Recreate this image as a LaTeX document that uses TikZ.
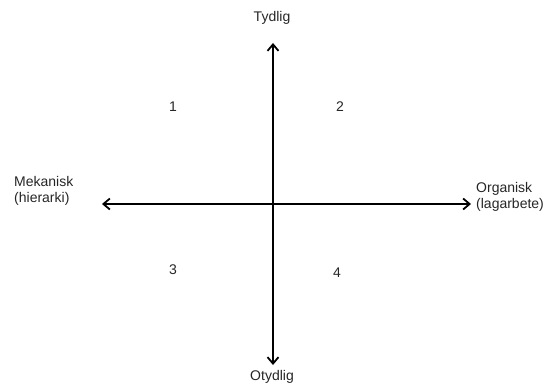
\documentclass[tikz,border=0pt]{standalone}
\usepackage{fontspec}
\setmainfont{Liberation Sans}
\usetikzlibrary{arrows.meta}
\begin{document}
\begin{tikzpicture}[x=1pt,y=-1pt,
  lbl/.style={inner sep=0pt,font=\fontsize{14}{15.5}\selectfont,text=black!85},
  axis/.style={line width=2.2pt,{Straight Barb[length=6.5pt,width=11pt,line width=1.8pt]}-{Straight Barb[length=6.5pt,width=11pt,line width=1.8pt]}}]
\useasboundingbox (0,0) rectangle (548,385);
\coordinate (top) at (273,43);
\coordinate (bot) at (273,365);
\coordinate (lft) at (102,204);
\coordinate (rgt) at (471,204);
\draw[axis] (bot) -- (top);
\draw[axis] (lft) -- (rgt);
\node[lbl] (ty) at (272,18) {Tydlig};
\node[lbl] (ot) at (272,377) {Otydlig};
\node[lbl,anchor=west,align=left] (me) at (14,191) {Mekanisk\\(hierarki)};
\node[lbl,anchor=west,align=left] (or) at (476,197) {Organisk\\(lagarbete)};
\node[lbl] (n1) at (173,107) {1};
\node[lbl] (n2) at (340,107) {2};
\node[lbl] (n3) at (173,270) {3};
\node[lbl] (n4) at (337,273) {4};
\end{tikzpicture}
\end{document}
